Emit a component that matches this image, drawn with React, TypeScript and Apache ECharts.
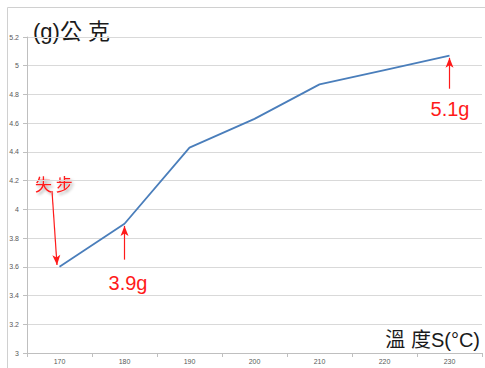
import React, { useEffect, useRef } from "react";
import * as echarts from "echarts";

const categories = ["170", "180", "190", "200", "210", "220", "230"];
const weights = [3.6, 3.9, 4.43, 4.63, 4.87, 4.97, 5.07];
const yMin = 3;
const yMax = 5.2;
const yStep = 0.2;

export default function App() {
  const ref = useRef<HTMLDivElement>(null);
  useEffect(() => {
    const chart = echarts.init(ref.current!, null, { renderer: "svg" });
    const red = "#ff1a1a";
    chart.setOption({
      animation: false,
      backgroundColor: "#ffffff",
      grid: { left: 27, right: 3, top: 37, bottom: 15, containLabel: false },
      xAxis: {
        type: "category",
        data: categories,
        boundaryGap: true,
        axisLine: { show: true, lineStyle: { color: "#bfbfbf" } },
        axisTick: { show: true, length: 4, lineStyle: { color: "#bfbfbf" } },
        axisLabel: { fontSize: 7, color: "#595959", margin: 5, fontFamily: "Liberation Sans" },
        splitLine: { show: false },
      },
      yAxis: {
        type: "value",
        min: yMin,
        max: yMax,
        interval: yStep,
        axisLine: { show: true, lineStyle: { color: "#bfbfbf" } },
        axisTick: { show: true, length: 4, lineStyle: { color: "#bfbfbf" } },
        axisLabel: {
          fontSize: 7,
          color: "#595959",
          margin: 8,
          fontFamily: "Liberation Sans",
          formatter: (v: number) => String(Math.round(v * 10) / 10),
        },
        splitLine: { show: true, lineStyle: { color: "#d9d9d9", width: 1 } },
      },
      series: [
        {
          type: "line",
          data: weights,
          symbol: "none",
          lineStyle: { color: "#4a7ebb", width: 1.8 },
          markLine: {
            silent: true,
            symbol: ["none", "arrow"],
            symbolSize: [6, 10],
            label: { show: false },
            lineStyle: { color: red, width: 1.2, type: "solid" },
            data: [
              [{ coord: ["180", 3.65] }, { coord: ["180", 3.885] }],
              [{ coord: ["230", 4.84] }, { coord: ["230", 5.055] }],
              [{ x: 52, y: 191 }, { x: 57, y: 265 }],
            ],
          },
        },
      ],
      graphic: [
        {
          type: "rect",
          shape: { x: 7.5, y: 7.5, width: 500, height: 400 },
          style: { fill: "none", stroke: "#d0d0d0", lineWidth: 1 },
          silent: true,
        },
        {
          type: "text",
          x: 33,
          y: 31,
          style: {
            text: "(g)公 克",
            font: "22px 'Liberation Sans', 'Noto Sans CJK TC', sans-serif",
            fill: "#1a1a1a",
            verticalAlign: "middle",
          },
        },
        {
          type: "text",
          x: 480,
          y: 340,
          style: {
            text: "溫 度S(°C)",
            font: "20px 'Liberation Sans', 'Noto Sans CJK TC', sans-serif",
            fill: "#1a1a1a",
            align: "right",
            verticalAlign: "middle",
          },
        },
        {
          type: "text",
          x: 35,
          y: 183,
          style: {
            text: "失 步",
            font: "17px 'Noto Sans CJK TC', sans-serif",
            fill: red,
            verticalAlign: "middle",
            textShadowColor: "rgba(0,0,0,0.35)",
            textShadowBlur: 3,
            textShadowOffsetX: 2,
            textShadowOffsetY: 2,
          },
        },
        {
          type: "text",
          x: 128,
          y: 283,
          style: {
            text: "3.9g",
            font: "20px 'Liberation Sans', sans-serif",
            fill: red,
            align: "center",
            verticalAlign: "middle",
          },
        },
        {
          type: "text",
          x: 450,
          y: 109,
          style: {
            text: "5.1g",
            font: "20px 'Liberation Sans', sans-serif",
            fill: red,
            align: "center",
            verticalAlign: "middle",
          },
        },
      ],
    });
    return () => chart.dispose();
  }, []);
  return (
    <div
      ref={ref}
      style={{ position: "absolute", left: 0, top: 0, width: 485, height: 368 }}
    />
  );
}
